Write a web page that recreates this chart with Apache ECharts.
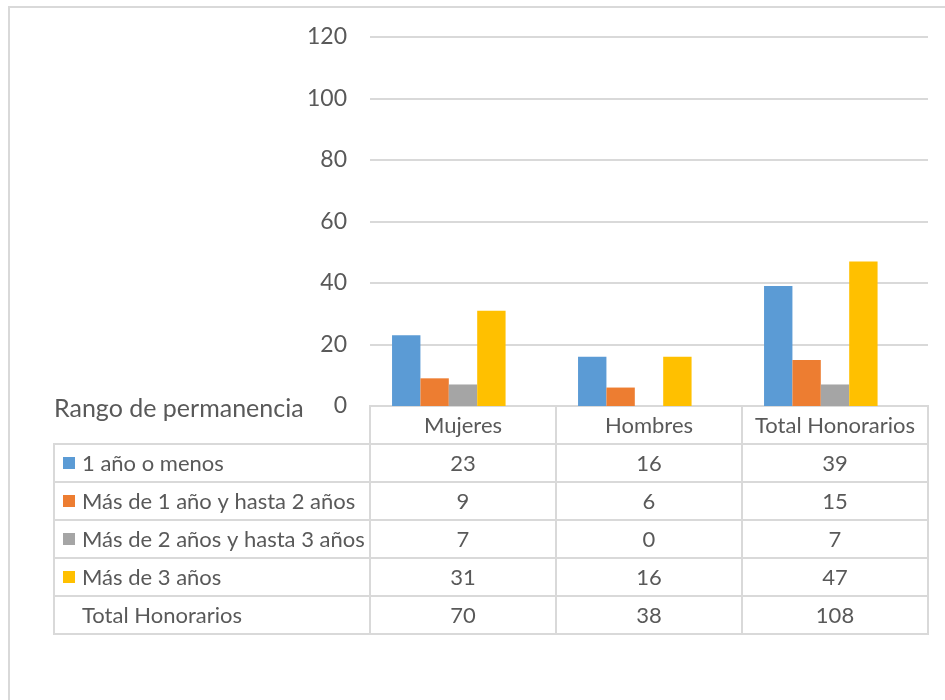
<!DOCTYPE html>
<html>
<head>
<meta charset="utf-8">
<script src="https://cdn.jsdelivr.net/npm/echarts@6/dist/echarts.min.js"></script>
<style>html,body{margin:0;padding:0;background:#fff}#c{width:945px;height:700px}</style>
</head>
<body>
<div id="c"></div>
<script>
var categories = ['Mujeres', 'Hombres', 'Total Honorarios'];
var seriesNames = ['1 año o menos', 'Más de 1 año y hasta 2 años', 'Más de 2 años y hasta 3 años', 'Más de 3 años'];
var oneYearOrLess = [23, 16, 39];
var oneToTwoYears = [9, 6, 15];
var twoToThreeYears = [7, 0, 7];
var moreThanThree = [31, 16, 47];
var totalName = 'Total Honorarios';
var totals = [70, 38, 108];
var tableTitle = 'Rango de permanencia';
var yMin = 0, yMax = 120, yStep = 20;

var colors = ['#5B9BD5', '#ED7D31', '#A5A5A5', '#FFC000'];
var textColor = '#595959';
var lineColor = '#D9D9D9';
var FONT = 'Lato';
var CELL_FONT = '22px ' + FONT;

var seriesValues = [oneYearOrLess, oneToTwoYears, twoToThreeYears, moreThanThree];

var valueCells = [];
categories.forEach(function (c, ci) {
  valueCells.push({ value: [ci, 0], txt: c });
  seriesValues.forEach(function (arr, si) { valueCells.push({ value: [ci, si + 1], txt: String(arr[ci]) }); });
  valueCells.push({ value: [ci, 5], txt: String(totals[ci]) });
});
var rowNames = seriesNames.concat([totalName]);
var rowCells = rowNames.map(function (n, i) { return { value: [0, i], txt: n, color: colors[i] || null }; });

var chart = echarts.init(document.getElementById('c'));

var bars = seriesNames.map(function (n, i) {
  return {
    name: n, type: 'bar', xAxisIndex: 0, yAxisIndex: 0,
    data: seriesValues[i], itemStyle: { color: colors[i] },
    barGap: 0, barCategoryGap: '23.7%', silent: true
  };
});
bars.push({
  name: totalName, type: 'bar', xAxisIndex: 0, yAxisIndex: 0,
  data: totals, itemStyle: { color: 'rgba(0,0,0,0)' }, barGap: 0, barCategoryGap: '23.7%', silent: true
});

var option = {
  animation: false,
  backgroundColor: '#fff',
  title: {
    text: tableTitle, left: 54, top: 396, padding: 0,
    textStyle: { fontFamily: FONT, fontSize: 25, fontWeight: 'normal', color: textColor }
  },
  graphic: [{
    type: 'rect', shape: { x: 9, y: 7, width: 960, height: 720 },
    style: { fill: 'none', stroke: lineColor, lineWidth: 2 }, silent: true
  }],
  grid: [
    { left: 370, top: 37, width: 558, height: 369 },
    { left: 370, top: 406, width: 558, height: 228 },
    { left: 54, top: 444, width: 316, height: 190 }
  ],
  xAxis: [
    { type: 'category', gridIndex: 0, data: categories, axisLine: { show: false }, axisTick: { show: false }, axisLabel: { show: false } },
    { type: 'category', gridIndex: 1, data: categories, show: false },
    { type: 'category', gridIndex: 2, data: ['x'], show: false }
  ],
  yAxis: [
    {
      type: 'value', gridIndex: 0, min: yMin, max: yMax, interval: yStep,
      axisLine: { show: false }, axisTick: { show: false },
      axisLabel: { color: textColor, fontFamily: FONT, fontSize: 23, margin: 23 },
      splitLine: { lineStyle: { color: lineColor, width: 2 } }
    },
    { type: 'category', gridIndex: 1, data: [0, 1, 2, 3, 4, 5], inverse: true, show: false },
    { type: 'category', gridIndex: 2, data: [0, 1, 2, 3, 4], inverse: true, show: false }
  ],
  series: bars.concat([
    {
      type: 'custom', xAxisIndex: 1, yAxisIndex: 1, silent: true,
      data: valueCells,
      renderItem: function (params, api) {
        var p = api.coord([api.value(0), api.value(1)]);
        var s = api.size([1, 1]);
        var cell = valueCells[params.dataIndex];
        return {
          type: 'group', children: [
            { type: 'rect', shape: { x: p[0] - s[0] / 2, y: p[1] - s[1] / 2, width: s[0], height: s[1] },
              style: { fill: 'none', stroke: lineColor, lineWidth: 2 } },
            { type: 'text', x: p[0], y: p[1] + 1,
              style: { text: cell.txt, fill: textColor, font: CELL_FONT, align: 'center', verticalAlign: 'middle' } }
          ]
        };
      }
    },
    {
      type: 'custom', xAxisIndex: 2, yAxisIndex: 2, silent: true,
      data: rowCells,
      renderItem: function (params, api) {
        var p = api.coord([api.value(0), api.value(1)]);
        var s = api.size([1, 1]);
        var cell = rowCells[params.dataIndex];
        var x0 = p[0] - s[0] / 2, y0 = p[1] - s[1] / 2;
        var ch = [
          { type: 'rect', shape: { x: x0, y: y0, width: s[0], height: s[1] },
            style: { fill: 'none', stroke: lineColor, lineWidth: 2 } },
          { type: 'text', x: x0 + 28, y: p[1] + 1,
            style: { text: cell.txt, fill: textColor, font: CELL_FONT, align: 'left', verticalAlign: 'middle' } }
        ];
        if (cell.color) {
          ch.push({ type: 'rect', shape: { x: x0 + 9, y: p[1] - 6, width: 12, height: 12 }, style: { fill: cell.color } });
        }
        return { type: 'group', children: ch };
      }
    }
  ])
};
chart.setOption(option);
</script>
</body>
</html>
